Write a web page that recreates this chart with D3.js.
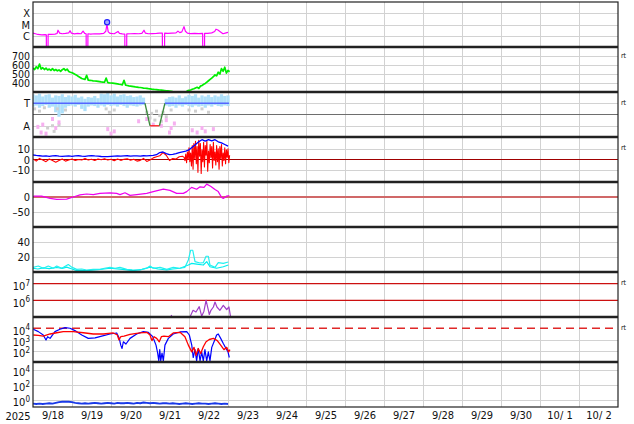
<!DOCTYPE html>
<html><head><meta charset="utf-8">
<script src="https://cdn.jsdelivr.net/npm/d3@7"></script>
<style>
body{margin:0;background:#fff}
svg{display:block}
text{font-family:"DejaVu Sans Condensed","DejaVu Sans",sans-serif;fill:#111}
</style>
</head><body>
<svg id="c" width="634" height="424"></svg>
<script>
// ---------------- DATA (hours from 2025-09-18 00:00 UT) ----------------
const xrayHours = [0,1.5,3,5.5,7.5,8.2,8.3,9.2,9.3,11,13.5,14.8,15.4,16.4,18,20,22,22.8,23.6,25.5,27.5,29.5,30.8,31.8,32.7,32.8,33.7,33.8,35.5,38,41,43.5,44.8,45.5,46.3,47.5,50,52.3,53.2,55,56.5,56.6,57.6,57.7,60,62.5,65,67,68.3,69.2,71,73.5,76,78,79.6,79.7,80.9,81,83,85.5,88,89.2,90.3,91.6,92.9,93.8,95,97,99.5,102,104.4,104.5,105.5,105.6,107.5,110,111.8,112.6,113.8,115,116.9,118.8,120];
const xrayFlux = [1.75e-6,1.5e-6,1.3e-6,1.2e-6,1.25e-6,1.2e-6,1e-9,1e-9,1.3e-6,1.35e-6,1.4e-6,1.6e-6,3.1e-6,1.7e-6,1.5e-6,1.6e-6,1.8e-6,2.8e-6,1.7e-6,1.45e-6,1.6e-6,1.5e-6,2.6e-6,1.6e-6,1.5e-6,1e-9,1e-9,1.5e-6,1.4e-6,1.5e-6,1.45e-6,1.6e-6,2.5e-6,1.1e-5,2.2e-6,1.6e-6,1.5e-6,2.4e-6,1.6e-6,1.45e-6,1.4e-6,1e-9,1e-9,1.45e-6,1.5e-6,1.55e-6,1.5e-6,1.65e-6,3.1e-6,1.7e-6,1.5e-6,1.55e-6,1.6e-6,1.7e-6,1.75e-6,1e-9,1e-9,1.7e-6,1.6e-6,1.7e-6,1.8e-6,2.6e-6,1.9e-6,2.2e-6,6.5e-6,2.5e-6,1.7e-6,1.55e-6,1.6e-6,1.55e-6,1.6e-6,1e-9,1e-9,1.6e-6,1.65e-6,1.8e-6,2.4e-6,3.8e-6,3.2e-6,2.4e-6,1.5e-6,1.8e-6,2.0e-6];
const flareHours = [45.6];
const flareFlux = [1.58e-5];
const xrayTicks = [1e-4,1e-5,1e-6];
const xrayTickLabels = ["X","M","C"];

const speedValues = [565,550,580,560,610,555,570,550,565,545,
 555,540,560,538,550,535,545,530,548,560,
 540,555,528,520,515,505,495,485,472,462,
 450,445,440,485,432,430,428,424,422,420,
 418,415,412,410,408,455,405,402,400,398,
 396,393,390,386,383,380,430,376,372,368,
 366,363,360,357,355,352,350,347,344,342,
 340,337,335,332,330,328,326,324,322,320,
 318,316,314,312,310,308,305,303,299,294,
 288,285,287,292,298,312,318,322,330,336,
 345,352,340,365,372,385,395,410,425,440,
 455,470,490,480,520,500,560,530,575,510,
 540,525];
const speedTicks = [700,600,500,400];

const sectorHours = [0,68.9,72,77.8,81.2,120.6];
const sectorValues = [1,1,-1,-1,1,1];
const towardHi = [1.8,1.7,1.85,1.6,1.75,1.8,1.5,1.7,1.65,1.8,1.55,1.7,1.6,1.75,1.5,1.6,1.4,1.55,1.5,1.65,1.45,1.85,1.8,1.9,1.7,1.85,1.6,1.75,1.8,1.65,1.7,1.55,1.6,1.7,1.5,
 null,null,null,null,null,null,
 1.4,1.55,1.6,1.5,1.7,1.45,1.6,1.75,1.65,1.8,1.5,1.7,1.6,1.75,1.55,1.7,1.6,1.8,1.65,1.7];
const towardLo = [0.7,0.8,0.6,0.75,0.85,0.6,0.7,0.2,-0.2,0.1,0.6,0.75,0.8,0.7,0.85,0.5,0.3,0.7,0.8,0.75,0.6,0.8,0.7,0.85,0.75,0.8,0.7,0.85,0.75,0.6,0.8,0.75,0.7,0.8,0.85,
 null,null,null,null,null,null,
 0.8,0.7,0.75,0.6,0.8,0.7,0.85,0.75,0.65,0.8,0.7,0.75,0.6,0.8,0.7,0.85,0.75,0.7,0.8,0.75];
const grayHours = [1,4,7,9,13,16,20,45,47,50,70,72,73,75,76,78,79,80,82,85,96,100,104,108,12,15];
const grayValues = [0.5,0.3,0.6,-1.2,-1.5,-0.9,0.4,0.5,0.2,0.4,0.2,-0.3,0.1,-0.5,0.3,-0.1,-0.6,0.2,-0.2,0.4,0.4,0.3,0.5,0.2,-1.0,0.5];
const pinkHours = [3,5,6,8,12,14,16,46,48,50,65,70,74,79,82,84,85,87,98,101,104,106,111];
const pinkValues = [-1.1,-1.6,-0.9,-1.7,-0.4,-1.2,-0.7,-1.3,-1.7,-1.5,-0.6,-0.4,-0.9,-1.0,-0.5,-1.6,-1.2,-0.8,-1.4,-1.6,-1.2,-1.5,-1.3];
const sectorTicks = [1,-1];
const sectorTickLabels = ["T","A"];

const btValues = [4.2,3.8,3.5,3.2,3.4,3.0,3.3,3.6,3.1,2.9,3.2,3.4,3.0,3.3,3.5,3.2,3.0,3.4,3.6,3.3,3.1,2.8,2.7,2.6,2.9,3.2,3.4,3.1,3.3,3.5,3.2,3.4,3.3,3.2,3.5,3.3,3.6,3.8,4.5,6.5,7.0,5.5,4.5,4.8,5.5,6.5,7.2,7.8,9.0,11.5,14.0,16.5,18.5,17.2,18.6,17.4,18.5,16.5,15.5,14.0,12.5];
const bzValuesSlow = [0.5,-1.5,1.0,-0.5,-2.0,0.5,-1.0,-2.5,-1.0,0.5,-1.5,-0.5,0.5,-1.0,0.0,-0.5,1.0,-0.5,0.2,-1.0,0.5,-0.3,0.8,-0.5,0.3,-1.2,0.5,-0.8,0.2,0.6,-0.6,0.3,-1.5,-0.8,1.0,-1.8,-0.5,1.5,2.5,3.5,6.5,4.0,-1.0,1.0,0.5,2.5,3.0];
const bzValuesFast = [2,-1,5,-3,7,0,11,-2,6,-6,13,-9,15,1,17,-4,12,-12,18,3,15,-13,9,-2,16,-7,13,4,17,-11,8,-3,14,2,12,-8,16,-1,7,-5,13,-2,10,-9,12,1,14,-6,6,-1,11,-4,9,2,10,-3,4];
const bTicks = [10,0,-10];
const bTickLabels = ["10","0","\u201310"];

const dstHours = [0.2,5.3,10.5,14.6,20.7,24.8,28.9,33,37.1,41.2,47.4,51.5,53.5,56.6,59.7,63.8,70,74,80.2,84.3,88.4,92.5,94.6,97.6,100.7,102.8,105.2,106.9,109.3,112,114,116.1,117.1,119.2,120.8];
const dstValues = [3,3,-4.4,-8,-7,0,7,10,8,12,14,12,8,14,5.5,8,12,18,26,22,12,12,18,32,26,34,32,43,36,25,18,-2,-5,3,5];
const dstTicks = [0,-50];
const dstTickLabels = ["0","\u201350"];

const densAHours = [0,3.3,6.3,9.4,12.5,14.6,17.7,21.7,23.8,26.9,30,33,37,41.2,44,47.4,50.5,53.5,57.7,61,65.8,70,72,74,78.2,82.3,86.3,90.5,93.5,95.6,97,98.3,99.7,102.8,104.8,106.5,107.9,108.9,112,114,117.1,120.2];
const densAValues = [6.2,8,5,8,5,8,5,10,6.5,3.5,4,2.7,3.5,3.5,5,6.2,5,6.2,3.5,3,2.7,5,8,5,6.2,3.5,6.2,5,6.2,16,29,29,13.8,12,12.5,21,21,9.3,6.2,12.4,11.5,13.3];
const densBHours = [0,3,6.3,10,14.6,18,20.7,24,26.9,33,40,47.4,55,61.7,67,72,77,82.3,86,90.5,95.6,97.7,100.7,104.8,106.9,108.9,113,117.1,120.2];
const densBValues = [5,4,5.5,4.5,6,4.8,6.5,4,1.8,1.8,3,5,3.5,1.8,3.5,6.5,4,2.7,4,5,9.3,11.5,10.5,9.3,13.8,7,5,7,9.3];
const densTicks = [40,20];

const elecHours = [85,85.6,96.6,98.5,100.3,102.3,103.8,105.2,106.5,107.7,108.5,109.5,111,112,113.2,115,117.1,119.2,120.6,121.5];
const elecLog = [5.12,5.0,5.0,5.4,5.3,5.62,5.05,5.35,6.0,5.5,5.15,5.4,5.6,5.9,5.6,5.4,5.7,5.45,5.6,5.05];
const elecTicks = [1e7,1e6];

const p8BlueHours = [0.2,3.3,6.3,8,9,10.5,13.5,16.6,19.7,22.8,25.8,30,34,38.2,42.3,47.4,51.5,53.1,54,54.8,55.6,57.2,59.7,63.8,67.9,71,73.7,75.7,76.7,77.4,78,78.6,79.4,80.2,81.2,83.3,86.3,90.5,94.6,96.2,97.7,98.6,99.7,100.7,101.7,102.8,103.8,104.8,105.8,106.9,107.9,108.9,110,111.4,113,114,115.5,117.1,118.8,120,120.8];
const p8BlueLog = [3.91,3.7,3.4,2.96,3.25,3.1,3.7,3.91,4.05,4.0,3.79,3.4,3.1,3.15,3.3,3.49,3.58,3.1,2.5,2.2,2.8,2.6,3.1,3.49,3.7,3.64,3.25,2.5,1.8,1.1,2.1,1.1,1.8,1.1,2.5,3.1,3.49,3.67,3.7,3.4,2.5,1.4,2.1,1.1,2.2,1.1,1.9,1.1,2.1,1.1,1.9,1.1,2.3,2.8,3.4,3.49,3.1,2.65,2.2,1.9,1.4];
const p8RedHours = [0.2,3.3,6.3,10.5,14.6,18.6,24.8,31,37.1,43.3,49.4,51.9,52.9,54,56,59.7,65.8,70,72,73.2,74.5,76.1,77.7,79,80.6,83.3,86.3,90.5,93.5,95.6,97.7,99.1,100.3,101.7,103.2,104.8,106.5,108.5,111,113.4,115.5,117.5,119.2,120.4,121.2];
const p8RedLog = [3.4,3.37,3.3,3.49,3.6,3.7,3.7,3.6,3.49,3.49,3.58,3.4,2.96,3.25,3.3,3.46,3.58,3.64,3.4,2.9,3.25,3.1,2.8,3.25,3.3,3.25,3.58,3.64,3.25,2.5,1.9,2.3,1.6,2.2,1.75,2.35,2.8,3.0,3.1,2.9,2.5,2.1,2.3,1.9,2.1];
const p8Ticks = [1e4,1e3,1e2];

const p9Log = [-0.55,-0.6,-0.55,-0.6,-0.55,-0.5,-0.55,-0.45,-0.35,-0.3,-0.28,-0.3,-0.35,-0.45,-0.5,-0.55,-0.5,-0.55,-0.5,-0.45,-0.5,-0.55,-0.5,-0.45,-0.5,-0.55,-0.45,-0.5,-0.5,-0.45,-0.5,-0.55,-0.45,-0.5,-0.4,-0.45,-0.5,-0.45,-0.5,-0.55,-0.5,-0.5,-0.55,-0.5,-0.55,-0.6,-0.55,-0.5,-0.55,-0.6,-0.55,-0.5,-0.55,-0.55,-0.6,-0.55,-0.5,-0.55,-0.6,-0.55,-0.6];
const p9Ticks = [1e4,1e2,1e0];

const rtPanels = [1,2,3,6,7];

// ---------------- LAYOUT ----------------
const L=33, R=618, TOP=2, PH=45, NP=9;
const start = new Date(Date.UTC(2025,8,18));
const end = new Date(Date.UTC(2025,9,3));
const x = d3.scaleUtc().domain([start,end]).range([L,R]);
const hx = h => x(new Date(start.getTime()+h*36e5));
const ptop = i => TOP+PH*i;
const mk = (i,kind,dom) => (kind==='log'?d3.scaleLog():d3.scaleLinear()).domain(dom).range([ptop(i)+PH, ptop(i)]);

const Y = [
  mk(0,'log',[1e-7,1e-3]),
  mk(1,'lin',[300,800]),
  mk(2,'lin',[-2,2]),
  mk(3,'lin',[-21,21]),
  mk(4,'lin',[-100,50]),
  mk(5,'lin',[0,60]),
  mk(6,'log',[1e5,Math.pow(10,7.7)]),
  mk(7,'log',[1e1,1e5]),
  mk(8,'log',[1e-1,1e5])
];

const svg = d3.select('#c');
svg.append('rect').attr('width',634).attr('height',424).attr('fill','#fff');
const defs = svg.append('defs');
for(let i=0;i<NP;i++){
  defs.append('clipPath').attr('id','cp'+i).append('rect')
    .attr('x',L).attr('y',ptop(i)).attr('width',R-L).attr('height',PH);
}

// vertical grid
const gGrid = svg.append('g').attr('stroke','#d2d2d2').attr('stroke-width',1).attr('shape-rendering','crispEdges');
d3.utcDay.range(d3.utcDay.offset(start,1), end).forEach(d=>{
  gGrid.append('line').attr('x1',Math.round(x(d))+0.5).attr('x2',Math.round(x(d))+0.5).attr('y1',TOP).attr('y2',ptop(NP));
});
// horizontal grid
const gridSets = [[0,xrayTicks],[1,speedTicks],[2,sectorTicks],[3,[10,-10]],[4,[-50]],[5,densTicks],[7,[1e3,1e2]],[8,p9Ticks]];
gridSets.forEach(([i,vals])=>vals.forEach(v=>{
  const yy = Math.round(Y[i](v))+0.5;
  gGrid.append('line').attr('x1',L).attr('x2',R).attr('y1',yy).attr('y2',yy);
}));

// special reference lines
const hl = (i,v,col,w,dash)=>{
  const l = svg.append('line').attr('x1',L).attr('x2',R).attr('y1',Y[i](v)).attr('y2',Y[i](v))
   .attr('stroke',col).attr('stroke-width',w);
  if(dash) l.attr('stroke-dasharray',dash);
};
hl(2,0,'#6e6e6e',1.2);
hl(3,0,'#a00000',1.2);
hl(4,0,'#d06868',2.2);
hl(6,1e7,'#cc1010',1.2);
hl(6,1e6,'#cc1010',1.2);

function path(i, hours, vals, color, w, fn){
  const data = d3.zip(hours, vals).map(([h,v])=>[h, fn?fn(v):v]);
  svg.append('path').datum(data).attr('clip-path','url(#cp'+i+')')
   .attr('fill','none').attr('stroke',color).attr('stroke-width',w).attr('stroke-linejoin','round')
   .attr('d', d3.line().defined(d=>d[1]!=null).x(d=>hx(d[0])).y(d=>Y[i](d[1])));
}

// Panel 0: X-ray
path(0, xrayHours, xrayFlux, '#ff00ff', 1.2);
svg.selectAll('.flare').data(d3.zip(flareHours,flareFlux)).join('circle')
  .attr('cx',d=>hx(d[0])).attr('cy',d=>Y[0](d[1])).attr('r',2.6)
  .attr('fill','#a0a8ff').attr('stroke','#2020ff').attr('stroke-width',1.2);

// Panel 1: speed
path(1, d3.range(speedValues.length), speedValues, '#00ee00', 1.7);

// Panel 2: sector
const g2 = svg.append('g').attr('clip-path','url(#cp2)');
const bw = hx(2)-hx(0);
d3.zip(d3.range(0,121,2), towardLo, towardHi).forEach(([h,lo,hi])=>{
  if(lo==null) return;
  g2.append('rect').attr('x',hx(h)-bw/2).attr('width',bw).attr('y',Y[2](hi)).attr('height',Y[2](lo)-Y[2](hi)).attr('fill','#aee0fa');
});
d3.zip(grayHours,grayValues).forEach(([h,v])=>g2.append('rect').attr('x',hx(h)-1.5).attr('y',Y[2](v)-1.5).attr('width',3).attr('height',3).attr('fill','#cfcfcf'));
d3.zip(pinkHours,pinkValues).forEach(([h,v])=>g2.append('rect').attr('x',hx(h)-1.5).attr('y',Y[2](v)-2).attr('width',3).attr('height',4).attr('fill','#f6b0f0'));
for(let k=0;k<sectorHours.length-1;k++){
  const a=sectorValues[k], b=sectorValues[k+1];
  const col = (a===1&&b===1)?'#5566ff':(a===-1&&b===-1)?'#ff2020':'#3c8a3c';
  g2.append('line').attr('x1',hx(sectorHours[k])).attr('x2',hx(sectorHours[k+1]))
    .attr('y1',Y[2](a)).attr('y2',Y[2](b)).attr('stroke',col).attr('stroke-width',1.3);
}

// Panel 3: IMF
path(3, d3.range(0,93,2).concat(d3.range(93,121.01,0.5)), bzValuesSlow.concat(bzValuesFast), '#ff0000', 1.1);
path(3, d3.range(0,121,2), btValues, '#0000ff', 1.3);

// Panel 4: Dst
path(4, dstHours, dstValues, '#ee00ee', 1.2);

// Panel 5: density
path(5, densBHours, densBValues, '#00eeee', 1.2);
path(5, densAHours, densAValues, '#22f0f0', 1.2);

// Panel 6: electrons
path(6, elecHours, elecLog, '#a040c8', 1.2, v=>Math.pow(10,v));

// Panel 7
hl(7,1e4,'#e02828',1.3,'8,5');
path(7, p8BlueHours, p8BlueLog, '#0000ff', 1.2, v=>Math.pow(10,v));
path(7, p8RedHours, p8RedLog, '#ff0000', 1.3, v=>Math.pow(10,v));

// Panel 8
path(8, d3.range(0,121,2), p9Log, '#1a3ae8', 1.8, v=>Math.pow(10,v));

// separators & frame
const gF = svg.append('g').attr('stroke','#222');
for(let i=1;i<NP;i++) gF.append('line').attr('x1',L).attr('x2',R).attr('y1',ptop(i)).attr('y2',ptop(i)).attr('stroke-width',2.4);
gF.append('rect').attr('x',L).attr('y',TOP).attr('width',R-L).attr('height',PH*NP).attr('fill','none').attr('stroke-width',1.2);

// y labels
function labels(i, vals, texts, fs){
  vals.forEach((v,k)=>{
    const yy = Y[i](v);
    const s = texts ? texts[k] : null;
    const t = svg.append('text').attr('x',30).attr('text-anchor','end').attr('font-size',fs||11);
    if(s!=null){ t.attr('y',yy+(fs?3.6:4)).text(s); }
    else {
      const e = Math.round(Math.log10(v));
      t.attr('y',yy+6.5);
      t.append('tspan').text('10');
      t.append('tspan').attr('dy',-4.5).attr('font-size',8).text(e);
    }
  });
}
labels(0, xrayTicks, xrayTickLabels);
labels(1, speedTicks, speedTicks.map(String), 10.5);
labels(2, sectorTicks, sectorTickLabels);
labels(3, bTicks, bTickLabels);
labels(4, dstTicks, dstTickLabels);
labels(5, densTicks, densTicks.map(String));
labels(6, elecTicks);
labels(7, p8Ticks);
labels(8, p9Ticks);

// rt marks
const firstTick = {1:speedTicks[0],2:sectorTicks[0],3:bTicks[0],6:elecTicks[0],7:p8Ticks[0]};
rtPanels.forEach(i=>{
  svg.append('text').attr('x',621).attr('y',Y[i](firstTick[i])+1.5).attr('font-size',7).attr('fill','#333').text('rt');
});

// x axis
const noons = d3.utcDay.range(start,end).map(d=>d3.utcHour.offset(d,12));
const fmt = d=>{const m=d.getUTCMonth()+1, dd=d.getUTCDate(); return m+'/'+(dd<10?'\u00a0'+dd:dd);};
const ax = svg.append('g').attr('transform','translate(0,'+(ptop(NP))+')')
  .call(d3.axisBottom(x).tickValues(noons).tickFormat(fmt).tickSize(0).tickPadding(4));
ax.select('.domain').remove();
ax.selectAll('text').attr('font-size',11).attr('font-family','"DejaVu Sans Condensed","DejaVu Sans",sans-serif').attr('fill','#111');
svg.append('text').attr('x',18).attr('y',ptop(NP)+13).attr('text-anchor','middle').attr('font-size',11).text('2025');
</script>
</body></html>
